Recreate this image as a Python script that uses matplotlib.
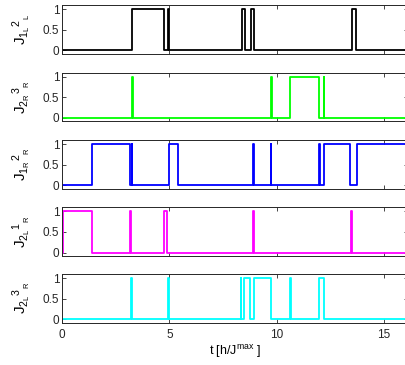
import matplotlib
matplotlib.use("Agg")
import matplotlib.pyplot as plt

plt.rcParams['font.family'] = ['Liberation Sans', 'DejaVu Sans']
plt.rcParams['mathtext.fontset'] = 'custom'
plt.rcParams['mathtext.rm'] = 'Liberation Sans'
plt.rcParams['mathtext.it'] = 'Liberation Sans'

# Transition times and states (steps-post)
t_1L2L = [0, 3.27, 4.74, 4.94, 4.97, 8.40, 8.51, 8.80, 8.93, 13.52, 13.72, 16.1]
v_1L2L = [0, 1, 0, 1, 0, 1, 0, 1, 0, 1, 0, 0]

t_2R3R = [0, 3.26, 3.29, 9.76, 9.79, 10.64, 11.98, 12.20, 12.23, 16.1]
v_2R3R = [0, 1, 0, 1, 0, 1, 0, 1, 0, 0]

t_1R2R = [0, 1.40, 3.15, 3.25, 3.28, 4.97, 5.39, 8.92, 8.95, 9.73, 9.76,
          11.97, 12.00, 12.23, 13.44, 13.74, 16.1]
v_1R2R = [0, 1, 0, 1, 0, 1, 0, 1, 0, 1, 0, 1, 0, 1, 0, 1, 1]

t_2L1R = [0, 0.06, 1.40, 3.17, 3.20, 4.74, 4.89, 8.92, 8.95, 13.46, 13.50, 16.1]
v_2L1R = [0, 1, 0, 1, 0, 1, 0, 1, 0, 1, 0, 0]

t_2L3R = [0, 3.22, 3.25, 4.94, 4.97, 8.32, 8.35, 8.49, 8.74, 8.93, 9.74,
          10.63, 10.66, 11.98, 12.20, 16.1]
v_2L3R = [0, 1, 0, 1, 0, 1, 0, 1, 0, 1, 0, 1, 0, 1, 0, 0]

labels = [r'$\mathrm{J_{1_{L}}{}^{2}{}_{_{L}}}$',
          r'$\mathrm{J_{2_{R}}{}^{3}{}_{_{R}}}$',
          r'$\mathrm{J_{1_{R}}{}^{2}{}_{_{R}}}$',
          r'$\mathrm{J_{2_{L}}{}^{1}{}_{_{R}}}$',
          r'$\mathrm{J_{2_{L}}{}^{3}{}_{_{R}}}$']
series = [(t_1L2L, v_1L2L), (t_2R3R, v_2R3R), (t_1R2R, v_1R2R),
          (t_2L1R, v_2L1R), (t_2L3R, v_2L3R)]
colors = ['#000000', '#00ff00', '#0000ff', '#ff00ff', '#00ffff']

xticks = [0, 5, 10, 15]
yticks = [0, 0.5, 1]
yticklabels = ['0', '0.5', '1']
xlabel = r't [h/J$^{\mathrm{max}}$ ]'

fig = plt.figure(figsize=(4.06, 3.65), dpi=100)
W, H = 406.0, 365.0
left_px, right_px = 62.0, 407.5
tops = [5.0, 72.7, 140.0, 207.3, 274.0]
h_px = 48.5

axc = '#262626'
for i, ((t, v), lab, c) in enumerate(zip(series, labels, colors)):
    ax = fig.add_axes([left_px / W, 1 - (tops[i] + h_px) / H,
                       (right_px - left_px) / W, h_px / H])
    ax.plot(t, v, drawstyle='steps-post', color=c, lw=1.3)
    ax.set_xlim(0, 16.1)
    ax.set_ylim(-0.08, 1.1)
    ax.set_xticks(xticks)
    ax.set_yticks(yticks)
    ax.set_yticklabels(yticklabels)
    ax.tick_params(direction='in', length=3, width=0.6, colors=axc,
                   labelsize=8.5, top=True, right=True, pad=2)
    ax.tick_params(axis='x', pad=5)
    for s in ax.spines.values():
        s.set_color(axc)
        s.set_linewidth(0.7)
    ax.set_ylabel(lab, fontsize=11, labelpad=7)
    if i < 4:
        ax.set_xticklabels([])
    else:
        ax.set_xlabel(xlabel, fontsize=9, labelpad=1)

fig.savefig('out.png', dpi=100)
